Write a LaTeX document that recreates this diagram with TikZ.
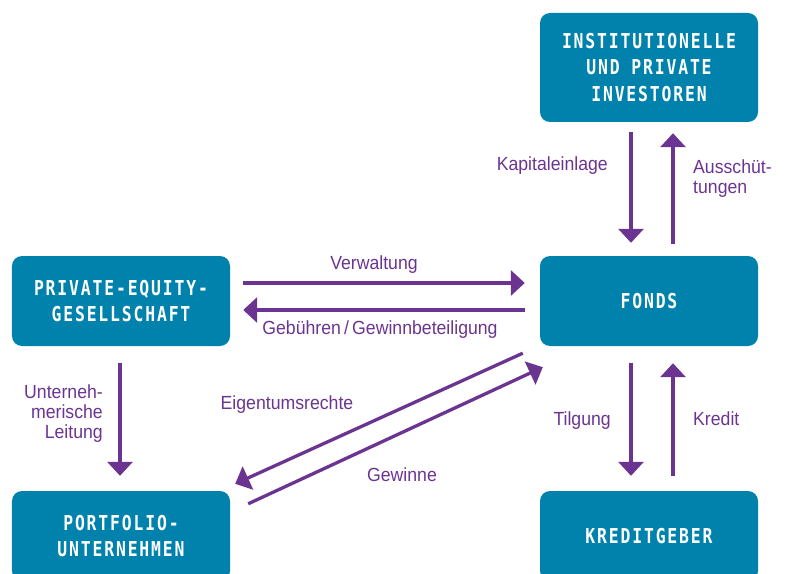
\documentclass[tikz,border=0pt]{standalone}
\usepackage{fontspec}
\setmainfont{Liberation Sans}[FakeStretch=0.93]
\newfontfamily\boxfont{DejaVu Sans Mono}[FakeStretch=0.8, LetterSpace=9]
\usetikzlibrary{arrows.meta,calc}
\definecolor{fondsteal}{RGB}{0,130,172}
\definecolor{flowpurple}{RGB}{108,52,145}
\tikzset{
    box/.style={fill=fondsteal, rounded corners=10bp, minimum width=218bp, minimum height=90bp,
        inner sep=0pt, text=white, align=center, font=\boxfont\bfseries\fontsize{20.5bp}{26.5bp}\selectfont},
    flow/.style={draw=flowpurple, line width=3.3bp, -{Triangle[width=25bp,length=14bp]}},
    lbl/.style={text=flowpurple, inner sep=0pt, font=\fontsize{19bp}{20bp}\selectfont}
}
\begin{document}
\begin{tikzpicture}[x=1bp, y=-1bp]
    \useasboundingbox (0,0) rectangle (785,574);
    \clip (0,0) rectangle (785,574);
    \node[box, minimum height=109bp] (inv) at (649,67.5) {INSTITUTIONELLE\\UND PRIVATE\\INVESTOREN};
    \node[box] (pe) at (121,301) {PRIVATE-EQUITY-\\GESELLSCHAFT};
    \node[box] (fonds) at (649,301) {FONDS};
    \node[box] (pf) at (121,536) {PORTFOLIO-\\UNTERNEHMEN};
    \node[box] (kg) at (649,536) {KREDITGEBER};

    \draw[flow] ($(inv.south)+(-18,10)$) -- ($(fonds.north)+(-18,-13)$);
    \draw[flow] ($(fonds.north)+(24,-12)$) -- ($(inv.south)+(24,11)$);
    \draw[flow] ($(pe.east)+(13,-18)$) -- ($(fonds.west)+(-15,-18)$);
    \draw[flow] ($(fonds.west)+(-15,9)$) -- ($(pe.east)+(13,9)$);
    \draw[flow] ($(pe.south)+(-1,17)$) -- ($(pf.north)+(-1,-15)$);
    \draw[flow] ($(fonds.south)+(-18,17)$) -- ($(kg.north)+(-18,-15)$);
    \draw[flow] ($(kg.north)+(24,-15)$) -- ($(fonds.south)+(24,17)$);
    \draw[flow] ($(fonds.south west)+(-17,7)$) -- ($(pf.north east)+(5,-7)$);
    \draw[flow] ($(pf.north east)+(18,13)$) -- ($(fonds.south west)+(3,21)$);

    \node[lbl, anchor=mid east] (einlage) at (608,168) {Kapitaleinlage};
    \node[lbl, anchor=west, align=left] (aussch) at (693,179) {Ausschüt-\\tungen};
    \node[lbl, anchor=mid] (verw) at (374,267) {Verwaltung};
    \node[lbl, anchor=mid] (gebuehr) at (380,332) {Gebühren\,/\,Gewinnbeteiligung};
    \node[lbl, anchor=east, align=right] (leitung) at (103,414) {Unterneh-\\merische\\Leitung};
    \node[lbl, anchor=mid] (eigen) at (287,407) {Eigentumsrechte};
    \node[lbl, anchor=mid] (gewinn) at (402,479) {Gewinne};
    \node[lbl, anchor=mid east] (tilg) at (611,423) {Tilgung};
    \node[lbl, anchor=mid west] (kredit) at (693,423) {Kredit};
\end{tikzpicture}
\end{document}
